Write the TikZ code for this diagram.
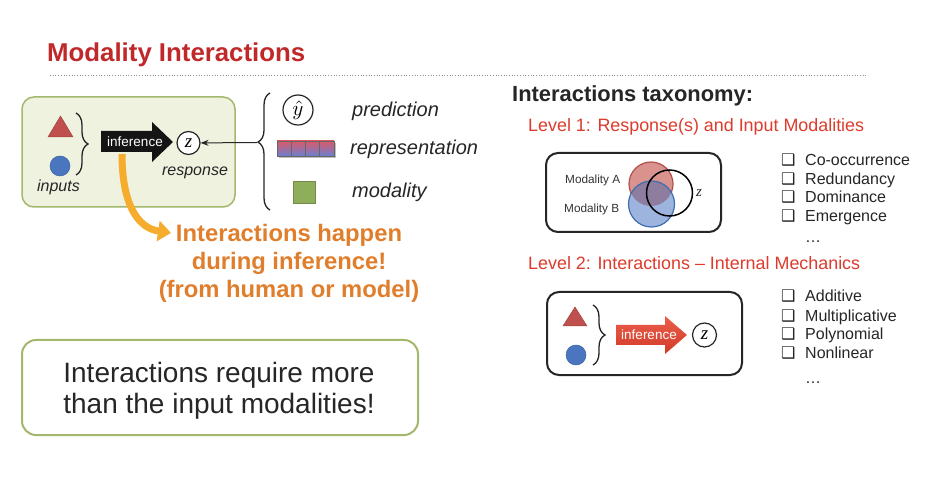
\documentclass[tikz,border=0pt]{standalone}
\usepackage{fontspec}
\setmainfont{Liberation Sans}
\newfontfamily\dejavu{DejaVu Sans}
\newfontfamily\zserif{Liberation Serif}
\usetikzlibrary{arrows.meta,decorations.pathreplacing,shapes.geometric}
\definecolor{titlered}{HTML}{C0282A}
\definecolor{lvlred}{HTML}{DD3B2C}
\definecolor{orangetxt}{HTML}{E07E2C}
\definecolor{boxgreen}{HTML}{A3B86C}
\definecolor{fillgreen}{HTML}{EEF2DF}
\definecolor{trired}{HTML}{C0504D}
\definecolor{cirblue}{HTML}{4A76C0}
\definecolor{sqgreen}{HTML}{8FAE5B}
\definecolor{darktxt}{HTML}{262626}
\definecolor{yel}{HTML}{F4B434}
\definecolor{vennred}{HTML}{D9928E}
\definecolor{vennredb}{HTML}{B2504B}
\definecolor{vennblue}{HTML}{9DB5DE}
\definecolor{vennblueb}{HTML}{3F6DB0}
\definecolor{vennmix}{HTML}{8E7D9E}
\definecolor{reprtop}{HTML}{DA5A6A}
\definecolor{reprbot}{HTML}{6A80D0}
\definecolor{infred}{HTML}{E8412C}
\begin{document}
\begin{tikzpicture}[x=1pt,y=-1pt,
  txt/.style={inner sep=0, text=darktxt},
  lbl/.style={txt, anchor=base west, font=\fontsize{20}{23}\selectfont\itshape},
  item/.style={txt, anchor=base west, font=\fontsize{16}{19}\selectfont},
  chk/.style={txt, anchor=base west, font=\dejavu\fontsize{16}{18}\selectfont},
  lvl/.style={inner sep=0, anchor=base west, text=lvlred, font=\fontsize{17.9}{21}\selectfont},
  orng/.style={inner sep=0, anchor=base, text=orangetxt, font=\fontsize{23.8}{28}\selectfont\bfseries},
  concltxt/.style={txt, anchor=base, font=\fontsize{28}{32}\selectfont},
  zcirc/.style={circle, draw=darktxt, line width=1.2, fill=white, inner sep=0, font=\zserif\itshape\fontsize{19}{20}\selectfont},
  brc/.style={decorate, decoration={brace, amplitude=12pt}, line width=1.3, darktxt},
  rbox/.style={draw=black!85, line width=2, rounded corners=12, fill=white}
]
\useasboundingbox (0,0) rectangle (932,486);
\fill[white] (0,0) rectangle (932,486);

% title
\node[inner sep=0, anchor=base west, text=titlered, font=\fontsize{25.8}{30}\selectfont\bfseries] (title) at (47,62) {Modality Interactions};
\draw[black!45, dotted, line width=0.7] (50,75) -- (866,75);

% left green box
\node[draw=boxgreen, fill=fillgreen, line width=1.5, rounded corners=12, minimum width=213, minimum height=110, inner sep=0] (inbox) at (128.5,152) {};
\filldraw[fill=trired, draw=trired!85!black, line width=0.5] (48,137) -- (73,137) -- (60.5,116) -- cycle;
\node[circle, fill=cirblue, draw=cirblue!85!black, line width=0.5, minimum size=20, inner sep=0] (inB) at (60,166) {};
\draw[brc] (76,113) -- (76,175);
\node[txt, anchor=base, font=\fontsize{16}{18}\selectfont\itshape] (inputs) at (58.5,192) {inputs};

% black inference arrow
\fill[black!92] (101,131) -- (152,131) -- (152,122) -- (173,142) -- (152,162) -- (152,152) -- (101,152) -- cycle;
\node[inner sep=0, text=white, font=\fontsize{13.5}{16}\selectfont] (infA) at (135,141.5) {inference};
\node[zcirc, minimum size=23] (zA) at (188.5,143) {z};
\node[txt, anchor=base, font=\fontsize{16}{18}\selectfont\itshape] (resp) at (195,176) {response};

% big brace and legend
\draw[decorate, decoration={brace, amplitude=12pt, aspect=0.58}, line width=1.3, darktxt] (270,210) -- (270,93);
\coordinate (btip) at (257,142.5);
\draw[darktxt, line width=1, -{Stealth[length=8pt,width=6pt]}] (btip) -- (zA);
\node[circle, draw=darktxt, line width=1.2, minimum size=30, inner sep=0] (yhat) at (298,110) {\scalebox{2.1}{$\hat{y}$}};
\fill[black!25] (279,143) rectangle (336,158);
\node[minimum width=57, minimum height=15, inner sep=0, top color=reprtop, bottom color=reprbot, draw=black!60, line width=0.8] (repr) at (305.5,148.5) {};
\foreach \i in {1,2,3} \draw[black!60, line width=0.8] (277+14.25*\i,141) -- (277+14.25*\i,156);
\node[fill=sqgreen, draw=sqgreen!80!black, line width=0.8, minimum size=22, inner sep=0] (modsq) at (304,192) {};
\node[lbl] (lpred) at (352,117) {prediction};
\node[lbl] (lrepr) at (350,155) {representation};
\node[lbl] (lmod) at (352,198) {modality};

% yellow arrow
\coordinate (ystart) at (122,154);
\coordinate (yend) at (171,233);
\draw[yel!85!orange, line width=7, -{Triangle[length=13pt,width=20pt]}] (ystart) .. controls (122,205) and (138,228) .. (yend);

% orange text
\node[orng] (o1) at (289,242) {Interactions happen};
\node[orng] (o2) at (289,270) {during inference!};
\node[orng] (o3) at (289,298) {(from human or model)};

% conclusion box
\node[draw=boxgreen, line width=2, rounded corners=14, minimum width=396, minimum height=95, fill=white, inner sep=0] (concl) at (220,387.5) {};
\node[concltxt] (cl1) at (219,382) {Interactions require more};
\node[concltxt] (cl2) at (219,413) {than the input modalities!};

% right side
\node[txt, anchor=base west, font=\fontsize{21.9}{25}\selectfont\bfseries] (tax) at (512,102) {Interactions taxonomy:};
\node[lvl] (lv1) at (528,132) {Level 1: Response(s) and Input Modalities};
\node[rbox, minimum width=175, minimum height=79] (box1) at (633.5,192.5) {};
\node[txt, anchor=base west, font=\fontsize{11.8}{14}\selectfont, text=black!80] (mA) at (565,184) {Modality A};
\node[txt, anchor=base west, font=\fontsize{11.8}{14}\selectfont, text=black!80] (mB) at (564,213) {Modality B};
\fill[vennred] (651,184) circle[radius=22];
\draw[vennredb, line width=1.2] (651,184) circle[radius=22];
\fill[vennblue] (651.5,204) circle[radius=23];
\begin{scope}
  \clip (651,184) circle[radius=22];
  \fill[vennmix] (651.5,204) circle[radius=23];
\end{scope}
\draw[vennblueb, line width=1.2] (651.5,204) circle[radius=23];
\node[circle, draw=black, line width=1.5, minimum size=46, inner sep=0] (cZ) at (669.5,193) {};
\node[inner sep=0, font=\zserif\itshape\fontsize{15}{16}\selectfont, text=darktxt] (zl) at (699,193) {z};

\node[chk] (c1) at (781,166) {❑}; \node[item] (i1) at (805,166) {Co-occurrence};
\node[chk] (c2) at (781,185) {❑}; \node[item] (i2) at (805,185) {Redundancy};
\node[chk] (c3) at (781,203) {❑}; \node[item] (i3) at (805,203) {Dominance};
\node[chk] (c4) at (781,222) {❑}; \node[item] (i4) at (805,222) {Emergence};
\node[item] (i5) at (805,243) {\dots};

\node[lvl] (lv2) at (528,270) {Level 2: Interactions – Internal Mechanics};
\node[rbox, minimum width=195, minimum height=83] (box2) at (644.5,333.5) {};
\filldraw[fill=trired, draw=trired!85!black, line width=0.5] (563,326) -- (587,326) -- (575,307) -- cycle;
\node[circle, fill=cirblue, draw=cirblue!85!black, line width=0.5, minimum size=20, inner sep=0] (inB2) at (576,355) {};
\draw[brc] (593,305) -- (593,365);
\shade[top color=infred!85!white, bottom color=infred!90!black] (616,325) -- (665,325) -- (665,316) -- (687,335) -- (665,354) -- (665,345) -- (616,345) -- cycle;
\node[inner sep=0, text=white, font=\fontsize{13.5}{16}\selectfont] (infB) at (649,335) {inference};
\node[zcirc, minimum size=24] (zB) at (704.5,335) {z};

\node[chk] (d1) at (781,302) {❑}; \node[item] (j1) at (805,302) {Additive};
\node[chk] (d2) at (781,322) {❑}; \node[item] (j2) at (805,322) {Multiplicative};
\node[chk] (d3) at (781,340) {❑}; \node[item] (j3) at (805,340) {Polynomial};
\node[chk] (d4) at (781,359) {❑}; \node[item] (j4) at (805,359) {Nonlinear};
\node[item] (j5) at (805,383) {\dots};
\end{tikzpicture}
\end{document}
